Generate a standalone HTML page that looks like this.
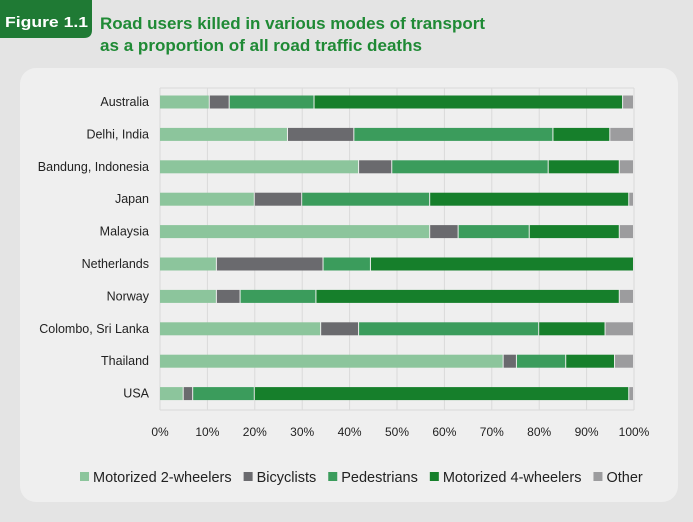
<!DOCTYPE html>
<html><head><meta charset="utf-8"><style>
body{margin:0;background:#e4e4e4;width:693px;height:517px;overflow:hidden;font-family:"Liberation Sans",Arial,sans-serif;}
</style></head><body>
<svg width="693" height="517" xmlns="http://www.w3.org/2000/svg">
<rect x="0" y="0" width="693" height="517" fill="#e4e4e4"/>
<path d="M0 0 H92 V30 Q92 38 84 38 H0 Z" fill="#1f7a34"/>
<text x="5" y="27" fill="#fff" font-weight="bold" font-size="15" textLength="83" lengthAdjust="spacingAndGlyphs">Figure 1.1</text>
<text x="100" y="29" fill="#1f8a35" font-weight="bold" font-size="16.5" textLength="385" lengthAdjust="spacingAndGlyphs">Road users killed in various modes of transport</text>
<text x="100" y="51" fill="#1f8a35" font-weight="bold" font-size="16.5" textLength="322" lengthAdjust="spacingAndGlyphs">as a proportion of all road traffic deaths</text>
<rect x="20" y="68" width="658" height="434" rx="16" fill="#efefef"/>
<g id="grid"></g><g id="bars"></g><g id="labels"></g><g id="legend"></g>
</svg>
<script>
const categories=["Australia","Delhi, India","Bandung, Indonesia","Japan","Malaysia","Netherlands","Norway","Colombo, Sri Lanka","Thailand","USA"];
const seriesNames=["Motorized 2-wheelers","Bicyclists","Pedestrians","Motorized 4-wheelers","Other"];
const moto2=[10.5,27,42,20,57,12,12,34,72.5,5];
const bicycle=[4.2,14,7,10,6,22.5,5,8,2.8,2];
const pedestrian=[17.9,42,33,27,15,10,16,38,10.4,13];
const moto4=[65.1,12,15,42,19,55.5,64,14,10.3,79];
const other=[2.3,5,3,1,3,0,3,6,4,1];
const tickLabels=["0%","10%","20%","30%","40%","50%","60%","70%","80%","90%","100%"];
const colors=["#8cc59c","#6a6a6e","#3b9c5c","#167f2b","#9c9c9e"];
const series=[moto2,bicycle,pedestrian,moto4,other];
const NS="http://www.w3.org/2000/svg";
const x0=160,x1=634,yTop=88,yBot=410,step=32.4,firstY=102,bh=13;
const xs=v=>x0+(x1-x0)*v/100;
const ys=i=>firstY+i*step;
function mk(t,a,p){const e=document.createElementNS(NS,t);for(const k in a)e.setAttribute(k,a[k]);p.appendChild(e);return e;}
const grid=document.getElementById('grid'),bars=document.getElementById('bars'),labels=document.getElementById('labels'),legend=document.getElementById('legend');
tickLabels.forEach((t,i)=>{const x=xs(i*10);
 const l=mk('line',{x1:x,x2:x,y1:yTop,y2:yBot,stroke:'#dadada','stroke-width':1},grid);
 
 
 const tx=mk('text',{x:x,y:436,'text-anchor':'middle','font-size':12,fill:'#222'},labels);tx.textContent=t;
 
 
});
mk('line',{x1:x0,x2:x1,y1:yTop,y2:yTop,stroke:'#dadada'},grid);
mk('line',{x1:x0,x2:x1,y1:yBot,y2:yBot,stroke:'#dadada'},grid);
categories.forEach((c,i)=>{const y=ys(i);
 const t=mk('text',{x:149,y:y+4,'text-anchor':'end','font-size':12.5,fill:'#222'},labels);t.textContent=c;
 
 
 let cum=0;
 series.forEach((s,j)=>{const v=s[i];if(v<=0)return;
  const r=mk('rect',{x:xs(cum),y:y-bh/2,width:Math.max(0,xs(cum+v)-xs(cum)-1),height:bh,fill:colors[j]},bars);
  
  
  cum+=v;});
});
let lx=80;
seriesNames.forEach((n,j)=>{
 const r=mk('rect',{x:lx,y:472,width:9,height:9,fill:colors[j]},legend);
 
 
 const t=mk('text',{x:lx+13,y:482,'font-size':14.5,fill:'#222'},legend);t.textContent=n;
 
 
 lx+=13+t.getComputedTextLength()+12;
});
</script>
</body></html>
